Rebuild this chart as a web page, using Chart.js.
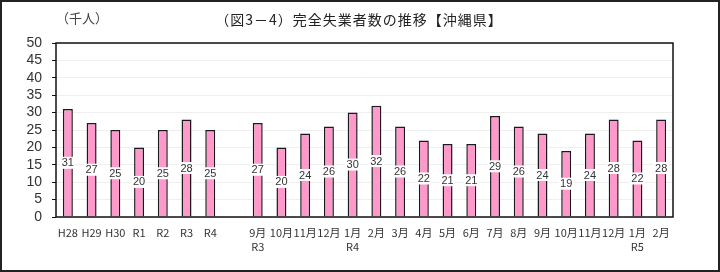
<!DOCTYPE html>
<html>
<head>
<meta charset="utf-8">
<script src="https://cdn.jsdelivr.net/npm/chart.js@4/dist/chart.umd.min.js"></script>
<style>
  html, body { margin: 0; padding: 0; background: #fff; }
  #wrap { width: 720px; height: 272px; }
</style>
</head>
<body>
<div id="wrap"><canvas id="chart" width="720" height="272"></canvas></div>
<script>
// categories (blank slot separates yearly and monthly figures)
const labels = [
  "H28", "H29", "H30", "R1", "R2", "R3", "R4", "",
  ["9月", "R3"], "10月", "11月", "12月", ["1月", "R4"], "2月", "3月", "4月",
  "5月", "6月", "7月", "8月", "9月", "10月", "11月", "12月", ["1月", "R5"], "2月"
];
const unemployed = [
  31, 27, 25, 20, 25, 28, 25, null,
  27, 20, 24, 26, 30, 32, 26, 22,
  21, 21, 29, 26, 24, 19, 24, 28, 22, 28
];
const yTicks = [0, 5, 10, 15, 20, 25, 30, 35, 40, 45, 50];

const titleText = "（図3－4）完全失業者数の推移【沖縄県】";
const unitText = "（千人）";
const jpFont = "'Noto Sans CJK JP', 'Liberation Sans', sans-serif";

// frame, plot border, titles and value boxes
const decor = {
  id: "decor",
  afterDatasetsDraw(chart) {
    const c = chart.ctx;
    const a = chart.chartArea;
    c.save();
    // value labels at mid-height of each bar
    const meta = chart.getDatasetMeta(0);
    c.font = "11px 'Liberation Sans', Arial, sans-serif";
    c.textAlign = "center";
    c.textBaseline = "middle";
    meta.data.forEach((bar, i) => {
      const v = unemployed[i];
      if (v == null) return;
      const yMid = (bar.y + bar.base) / 2;
      const w = c.measureText(String(v)).width + 3;
      c.fillStyle = "#fff";
      c.fillRect(bar.x - w / 2, yMid - 6, w, 12);
      c.fillStyle = "#333";
      c.fillText(String(v), bar.x, yMid + 0.5);
    });
    // plot area border
    c.strokeStyle = "#111";
    c.lineWidth = 1.5;
    c.strokeRect(a.left, a.top, a.right - a.left, a.bottom - a.top);
    // outer frame
    c.lineWidth = 2;
    c.strokeStyle = "#222";
    c.strokeRect(1, 1, chart.width - 2, chart.height - 2);
    // titles
    c.fillStyle = "#222";
    c.textBaseline = "middle";
    c.font = "14px " + jpFont;
    c.letterSpacing = "1px";
    c.textAlign = "center";
    c.fillText(titleText, 359, 20);
    c.fillStyle = "#444";
    c.font = "13px " + jpFont;
    c.letterSpacing = "0px";
    c.textAlign = "left";
    c.fillText(unitText, 56, 18);
    c.restore();
  }
};

const ctx = document.getElementById("chart").getContext("2d");
new Chart(ctx, {
  type: "bar",
  data: {
    labels: labels,
    datasets: [{
      data: unemployed,
      backgroundColor: "#ff99cc",
      borderColor: "#1a1a1a",
      borderWidth: 1.5,
      borderSkipped: "bottom",
      categoryPercentage: 0.84,
      barPercentage: 0.5
    }]
  },
  options: {
    responsive: false,
    animation: false,
    layout: { padding: { left: 0, right: 47, top: 43, bottom: 0 } },
    plugins: {
      legend: { display: false },
      tooltip: { enabled: false }
    },
    scales: {
      x: {
        offset: true,
        grid: { display: false },
        border: { display: false },
        ticks: {
          autoSkip: false,
          maxRotation: 0,
          color: "#333",
          padding: 0,
          font: { size: 11, family: jpFont, lineHeight: 1.35 }
        },
        afterFit(scale) { scale.height = 55; }
      },
      y: {
        min: 0,
        max: 50,
        afterBuildTicks(scale) { scale.ticks = yTicks.map(v => ({ value: v })); },
        grid: { color: "#efefef", tickLength: 4, tickColor: "#111" },
        border: { display: false },
        ticks: {
          autoSkip: false,
          color: "#333",
          padding: 10,
          font: { size: 14, family: "'Liberation Sans', Arial, sans-serif" }
        },
        afterFit(scale) { scale.width = 56; }
      }
    }
  },
  plugins: [decor]
});
</script>
</body>
</html>
